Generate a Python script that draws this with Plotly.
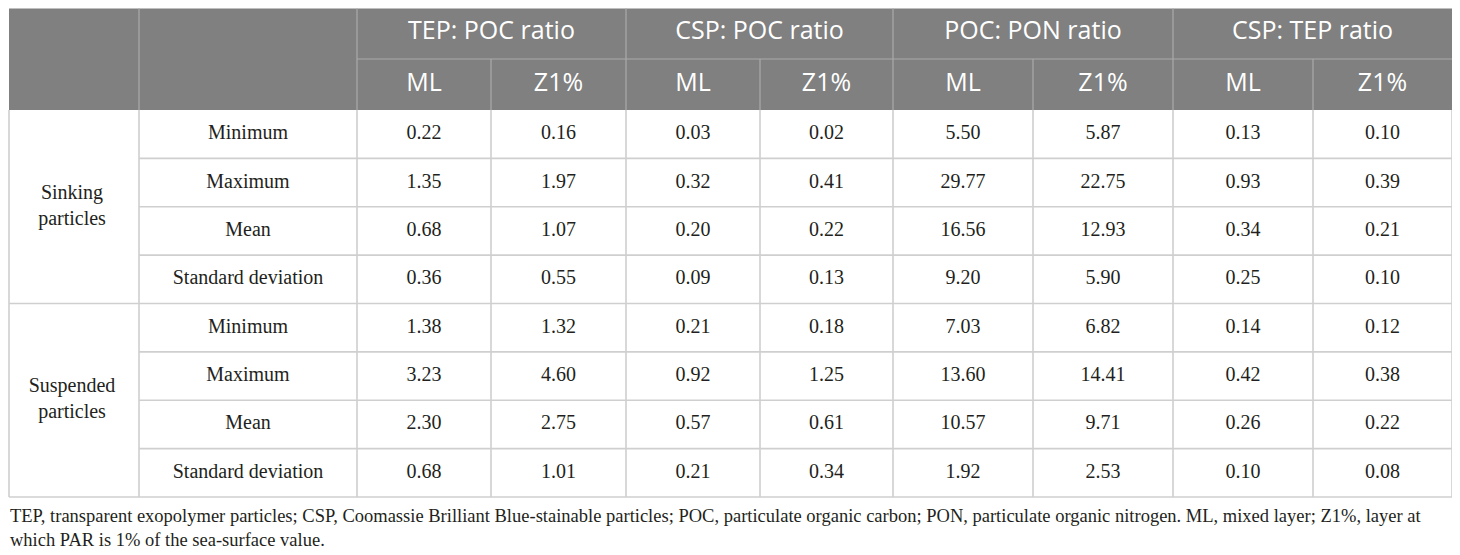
import plotly.graph_objects as go

# ---- data ----
groups = ["TEP: POC ratio", "CSP: POC ratio", "POC: PON ratio", "CSP: TEP ratio"]
layers = ["ML", "Z1%"]
particle_types = ["Sinking<br>particles", "Suspended<br>particles"]
stats = ["Minimum", "Maximum", "Mean", "Standard deviation"]

sinking = [
    ["0.22", "0.16", "0.03", "0.02", "5.50", "5.87", "0.13", "0.10"],
    ["1.35", "1.97", "0.32", "0.41", "29.77", "22.75", "0.93", "0.39"],
    ["0.68", "1.07", "0.20", "0.22", "16.56", "12.93", "0.34", "0.21"],
    ["0.36", "0.55", "0.09", "0.13", "9.20", "5.90", "0.25", "0.10"],
]
suspended = [
    ["1.38", "1.32", "0.21", "0.18", "7.03", "6.82", "0.14", "0.12"],
    ["3.23", "4.60", "0.92", "1.25", "13.60", "14.41", "0.42", "0.38"],
    ["2.30", "2.75", "0.57", "0.61", "10.57", "9.71", "0.26", "0.22"],
    ["0.68", "1.01", "0.21", "0.34", "1.92", "2.53", "0.10", "0.08"],
]
footnote = ("TEP, transparent exopolymer particles; CSP, Coomassie Brilliant Blue-stainable particles; "
            "POC, particulate organic carbon; PON, particulate organic nitrogen. ML, mixed layer; Z1%, layer at<br>"
            "which PAR is 1% of the sea-surface value.")

# ---- layout geometry (page pixels; the page body adds an 8px margin) ----
W, H = 1460, 555
OFF = 8
col_edges = [9, 139, 357, 491, 626, 760, 893, 1033, 1173, 1313, 1452]
head_top, head_mid, head_bot = 8.6, 59, 110
table_bot = 497
n_rows = len(stats) * 2
row_h = (table_bot - head_bot) / n_rows
row_edges = [head_bot + i * row_h for i in range(n_rows + 1)]

HEAD_BG = "#7f807f"
HEAD_LINE = "#a9aaa9"
GRID = "#cfcfcf"
TXT = "#231f20"
serif = "Liberation Serif"
sans = "Open Sans"

shapes = []
# header background
shapes.append(dict(type="rect", x0=col_edges[0], x1=col_edges[-1], y0=head_top, y1=head_bot,
                   fillcolor=HEAD_BG, line=dict(width=0), layer="below"))
# header inner lines
shapes.append(dict(type="line", x0=col_edges[2], x1=col_edges[-1], y0=head_mid, y1=head_mid,
                   line=dict(color=HEAD_LINE, width=1.2)))
for i, x in enumerate(col_edges[1:-1], start=1):
    y0 = head_top if (i <= 2 or i % 2 == 0) else head_mid
    shapes.append(dict(type="line", x0=x, x1=x, y0=y0, y1=head_bot,
                       line=dict(color=HEAD_LINE, width=1.2)))
# body vertical lines
for x in col_edges:
    shapes.append(dict(type="line", x0=x, x1=x, y0=head_bot, y1=table_bot,
                       line=dict(color=GRID, width=1.6)))
# body horizontal lines
for j, y in enumerate(row_edges[1:], start=1):
    x0 = col_edges[0] if j % len(stats) == 0 else col_edges[1]
    shapes.append(dict(type="line", x0=x0, x1=col_edges[-1], y0=y, y1=y,
                       line=dict(color=GRID, width=1.6)))

fig = go.Figure()

def mid(a, b):
    return (a + b) / 2

# header texts
gx, gy, gt = [], [], []
for g, name in enumerate(groups):
    gx.append(mid(col_edges[2 + 2 * g], col_edges[4 + 2 * g]))
    gy.append(mid(7, head_mid))
    gt.append(name)
for c in range(len(groups) * len(layers)):
    gx.append(mid(col_edges[2 + c], col_edges[3 + c]))
    gy.append(mid(head_mid, head_bot))
    gt.append(layers[c % 2])
fig.add_trace(go.Scatter(x=gx, y=gy, text=gt, mode="text", hoverinfo="skip",
                         textfont=dict(family=sans, size=25, color="white")))

# body texts
bx, by, bt = [], [], []
for k, block in enumerate([sinking, suspended]):
    top = row_edges[k * len(stats)]
    bot = row_edges[(k + 1) * len(stats)]
    bx.append(mid(5, col_edges[1]))
    by.append(mid(top, bot))
    bt.append(particle_types[k])
    for r, row in enumerate(block):
        ri = k * len(stats) + r
        yc = mid(row_edges[ri], row_edges[ri + 1])
        bx.append(mid(col_edges[1], col_edges[2]))
        by.append(yc)
        bt.append(stats[r])
        for c, v in enumerate(row):
            bx.append(mid(col_edges[2 + c], col_edges[3 + c]))
            by.append(yc)
            bt.append(v)
fig.add_trace(go.Scatter(x=bx, y=by, text=bt, mode="text", hoverinfo="skip",
                         textfont=dict(family=serif, size=20, color=TXT)))

fig.add_annotation(x=0, y=504, xref="paper", yref="y", text=footnote, showarrow=False,
                   xanchor="left", yanchor="top", align="left",
                   font=dict(family=serif, size=18.5, color=TXT))

fig.update_layout(
    width=W - OFF, height=H - OFF,
    margin=dict(l=0, r=0, t=0, b=0),
    plot_bgcolor="white", paper_bgcolor="white",
    showlegend=False, shapes=shapes,
    xaxis=dict(range=[OFF, W], visible=False, fixedrange=True),
    yaxis=dict(range=[H, OFF], visible=False, fixedrange=True),
)

fig.write_html("out.html")
